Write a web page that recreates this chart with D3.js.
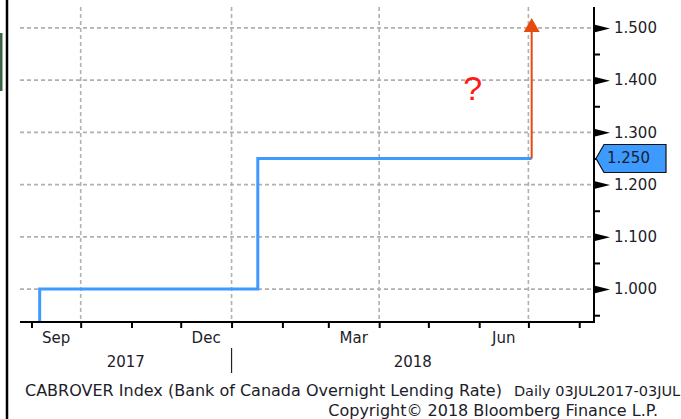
<!DOCTYPE html>
<html>
<head>
<meta charset="utf-8">
<script src="https://cdn.jsdelivr.net/npm/d3@7"></script>
<style>
  html, body { margin: 0; padding: 0; background: #ffffff; }
  svg { display: block; }
  text { font-family: "DejaVu Sans", Verdana, sans-serif; fill: #1c1c2a; }
</style>
</head>
<body>
<div id="chart"></div>
<script>
// ---- data ----
const stepDates = ["2017-08-20", "2017-09-06", "2018-01-17", "2018-07-03"];
const stepRates = [0.75, 1.00, 1.25, 1.25];
const arrowFrom = 1.25;
const arrowTo = 1.519;
const lastValue = 1.250;
const questionDate = "2018-05-28";
const questionValue = 1.385;
const yMajorTicks = [1.0, 1.1, 1.2, 1.3, 1.4, 1.5];
const yMinorTicks = [0.95, 1.05, 1.15, 1.25, 1.35, 1.45];
const gridDates = ["2017-10-01", "2018-01-01", "2018-04-01", "2018-07-01"];
const monthLabels = ["Sep", "Dec", "Mar", "Jun"];
const monthLabelDates = ["2017-09-01", "2017-12-01", "2018-03-01", "2018-06-01"];
const yearLabels = ["2017", "2018"];
const yearBoundary = "2018-01-01";
const xStart = "2017-08-25";
const xEnd = "2018-08-10";
const footerTitle = "CABROVER Index (Bank of Canada Overnight Lending Rate)";
const footerRange = "Daily 03JUL2017-03JUL2018";
const footerLine2 = "Copyright\u00a9 2018 Bloomberg Finance L.P.";

// ---- setup ----
const W = 681, H = 419;
const plot = { left: 20, right: 594, top: 7, bottom: 322 };
const parse = d3.utcParse("%Y-%m-%d");

const x = d3.scaleUtc().domain([parse(xStart), parse(xEnd)]).range([plot.left, plot.right]);
const y = d3.scaleLinear().domain([0.937, 1.54]).range([plot.bottom, plot.top]);

const svg = d3.select("#chart").append("svg").attr("width", W).attr("height", H);

svg.append("defs").append("clipPath").attr("id", "clip")
  .append("rect").attr("x", plot.left).attr("y", plot.top)
  .attr("width", plot.right - plot.left).attr("height", plot.bottom - plot.top);

// left frame pieces
svg.append("rect").attr("x", 0).attr("y", 33).attr("width", 2.5).attr("height", 58).attr("fill", "#3b6446");
svg.append("line").attr("x1", 7).attr("x2", 7).attr("y1", 0).attr("y2", H)
  .attr("stroke", "#000").attr("stroke-width", 2.5);

// grid
const grid = svg.append("g");
grid.selectAll(".hg").data(yMajorTicks).join("line")
  .attr("x1", plot.left).attr("x2", plot.right)
  .attr("y1", d => y(d)).attr("y2", d => y(d))
  .attr("stroke", "#b0b0b0").attr("stroke-width", 1.6).attr("stroke-dasharray", "4,3");
grid.selectAll(".vg").data(gridDates).join("line")
  .attr("x1", d => x(parse(d))).attr("x2", d => x(parse(d)))
  .attr("y1", plot.top).attr("y2", plot.bottom)
  .attr("stroke", "#b0b0b0").attr("stroke-width", 1.6).attr("stroke-dasharray", "4,3");

// series
const line = d3.line().curve(d3.curveStepAfter)
  .x((d, i) => x(parse(stepDates[i]))).y(d => y(d));
svg.append("path").attr("clip-path", "url(#clip)")
  .attr("d", line(stepRates))
  .attr("fill", "none").attr("stroke", "#3d9bff").attr("stroke-width", 3);

// arrow
const ax = x(parse(stepDates[stepDates.length - 1]));
const tipY = y(arrowTo);
svg.append("line").attr("x1", ax).attr("x2", ax).attr("y1", y(arrowFrom)).attr("y2", tipY + 12)
  .attr("stroke", "#e8490f").attr("stroke-width", 2);
svg.append("path")
  .attr("d", `M${ax},${tipY} L${ax + 8},${tipY + 14} L${ax - 8},${tipY + 14} Z`)
  .attr("fill", "#e8490f");

// question mark
svg.append("text").attr("x", x(parse(questionDate))).attr("y", y(questionValue))
  .attr("text-anchor", "middle").attr("dominant-baseline", "central")
  .style("font-family", "'Liberation Sans', Arial, sans-serif")
  .style("font-size", "34px").style("fill", "#ff1a1a").text("?");

// x axis
const xAxis = d3.axisBottom(x).ticks(d3.utcMonth.every(1)).tickSize(6).tickFormat("");
const gx = svg.append("g").attr("transform", `translate(0,${plot.bottom})`).call(xAxis);
gx.select(".domain").attr("stroke", "#000").attr("stroke-width", 2)
  .attr("d", `M${plot.left},0H${plot.right}`);
gx.selectAll(".tick line").attr("stroke", "#000").attr("stroke-width", 2);

// month labels (centered inside their month)
svg.selectAll(".mlab").data(monthLabels).join("text")
  .attr("x", (d, i) => {
    const s = parse(monthLabelDates[i]);
    return (x(s) + x(d3.utcMonth.offset(s, 1))) / 2;
  })
  .attr("y", 343).attr("text-anchor", "middle").style("font-size", "15px").text(d => d);

// year labels
const yb = x(parse(yearBoundary));
svg.selectAll(".ylab").data(yearLabels).join("text")
  .attr("x", (d, i) => i === 0 ? (plot.left + yb) / 2 : (yb + plot.right) / 2)
  .attr("y", 367).attr("text-anchor", "middle").style("font-size", "15px").text(d => d);
svg.append("line").attr("x1", yb).attr("x2", yb).attr("y1", 348).attr("y2", 373)
  .attr("stroke", "#222").attr("stroke-width", 1.2);

// y axis (right)
const yAxisMinor = d3.axisRight(y).tickValues(yMinorTicks).tickSize(6).tickFormat("");
const gyMinor = svg.append("g").attr("transform", `translate(${plot.right},0)`).call(yAxisMinor);
gyMinor.select(".domain").attr("stroke", "#000").attr("stroke-width", 2)
  .attr("d", `M0,${plot.top}V${plot.bottom + 1}`);
gyMinor.selectAll(".tick line").attr("stroke", "#000").attr("stroke-width", 2);

const yAxis = d3.axisRight(y).tickValues(yMajorTicks).tickSize(0).tickPadding(20)
  .tickFormat(d3.format(".3f"));
const gy = svg.append("g").attr("transform", `translate(${plot.right},0)`).call(yAxis);
gy.select(".domain").remove();
gy.selectAll(".tick text").style("font-size", "15px").style("font-family", "'DejaVu Sans', Verdana, sans-serif")
  .attr("fill", "#1c1c2a");
gy.selectAll(".tick").append("path").attr("d", "M0,-4 L16,0 L0,4 Z").attr("fill", "#000");

// last value tag
const ly = y(lastValue);
const tag = svg.append("g").attr("transform", `translate(${plot.right + 2},${ly})`);
tag.append("path").attr("d", "M0,0 L8,-14 L70,-14 L70,14 L8,14 Z")
  .attr("fill", "#3d9bff").attr("stroke", "#111").attr("stroke-width", 1.2);
tag.append("text").attr("x", 11).attr("y", 0).attr("dominant-baseline", "central")
  .style("font-size", "15px").text(d3.format(".3f")(lastValue));

// footer
const f1 = svg.append("text").attr("x", 25).attr("y", 396).style("font-size", "16px");
f1.append("tspan").text(footerTitle);
f1.append("tspan").attr("dx", 12).style("font-size", "14.5px").text(footerRange);
svg.append("text").attr("x", 658).attr("y", 416).attr("text-anchor", "end")
  .style("font-size", "16px").text(footerLine2);
</script>
</body>
</html>
